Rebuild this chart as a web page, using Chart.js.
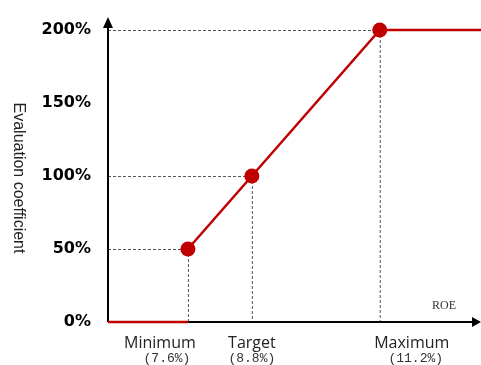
<!DOCTYPE html>
<html>
<head>
<meta charset="utf-8">
<script src="https://cdn.jsdelivr.net/npm/chart.js@4/dist/chart.umd.min.js"></script>
<style>
  html, body { margin: 0; padding: 0; background: #fff; }
  #wrap { width: 481px; height: 365px; }
</style>
</head>
<body>
<div id="wrap"><canvas id="chart" width="481" height="365"></canvas></div>
<script>
// ROE thresholds and the evaluation coefficient paid at each one
const roeNames = ["Minimum", "Target", "Maximum"];
const roeValues = [7.6, 8.8, 11.2];
const coefficients = [50, 100, 200];
const yTicks = [0, 50, 100, 150, 200];
const xRange = [6.1, 13.1];

const RED = "#c00000";
const nameShift = [-28, 0, 32];
const noteShift = [-21, 0, 36];

// below the minimum nothing is paid, above the maximum it stays capped
const floorLine = [
  { x: xRange[0], y: 0 },
  { x: roeValues[0], y: 0 },
];
const payLine = roeValues.map((x, i) => ({ x, y: coefficients[i] }));
payLine.push({ x: xRange[1], y: coefficients[coefficients.length - 1] });

function segment(ctx, x1, y1, x2, y2) {
  ctx.beginPath();
  ctx.moveTo(x1, y1);
  ctx.lineTo(x2, y2);
  ctx.stroke();
}

const guides = {
  id: "guides",
  beforeDatasetsDraw(chart) {
    const { ctx, chartArea: a, scales: { x, y } } = chart;
    ctx.save();
    // dashed helper lines from each threshold point to both axes
    ctx.strokeStyle = "#555";
    ctx.lineWidth = 1;
    ctx.setLineDash([3, 2]);
    roeValues.forEach((v, i) => {
      const px = x.getPixelForValue(v);
      const py = y.getPixelForValue(coefficients[i]);
      segment(ctx, a.left, py + 0.5, px, py + 0.5);
      segment(ctx, px + 0.5, py, px + 0.5, a.bottom);
    });
    ctx.setLineDash([]);

    // axes with arrow heads
    ctx.strokeStyle = "#000";
    ctx.fillStyle = "#000";
    ctx.lineWidth = 2;
    segment(ctx, a.left, a.bottom, a.right - 6, a.bottom);
    segment(ctx, a.left, a.bottom, a.left, a.top - 4);
    ctx.beginPath();
    ctx.moveTo(a.left, a.top - 13);
    ctx.lineTo(a.left - 5, a.top - 2);
    ctx.lineTo(a.left + 5, a.top - 2);
    ctx.closePath();
    ctx.fill();
    ctx.beginPath();
    ctx.moveTo(a.right, a.bottom);
    ctx.lineTo(a.right - 9, a.bottom - 5);
    ctx.lineTo(a.right - 9, a.bottom + 5);
    ctx.closePath();
    ctx.fill();
    ctx.restore();
  },
  afterDraw(chart) {
    const { ctx, chartArea: a, scales: { x } } = chart;
    ctx.save();
    ctx.textAlign = "center";
    ctx.textBaseline = "alphabetic";
    roeValues.forEach((v, i) => {
      const px = x.getPixelForValue(v);
      ctx.fillStyle = "#222";
      ctx.font = "16px 'Open Sans'";
      ctx.fillText(roeNames[i], px + nameShift[i], a.bottom + 26);
      ctx.fillStyle = "#333";
      ctx.font = "13px 'Liberation Mono'";
      ctx.fillText("(" + v + "%)", px + noteShift[i], a.bottom + 40);
    });

    ctx.fillStyle = "#333";
    ctx.font = "12px 'Liberation Serif'";
    ctx.fillText("ROE", a.right - 37, a.bottom - 13);

    // axis title reads top to bottom
    ctx.translate(18, 178);
    ctx.rotate(Math.PI / 2);
    ctx.textBaseline = "middle";
    ctx.fillStyle = "#222";
    ctx.font = "16px 'Liberation Sans'";
    ctx.fillText("Evaluation coefficient", 0, 0);
    ctx.restore();
  },
};

new Chart(document.getElementById("chart"), {
  type: "line",
  data: {
    datasets: [
      {
        data: floorLine,
        borderColor: RED,
        borderWidth: 2.5,
        pointRadius: 0,
        clip: false,
      },
      {
        data: payLine,
        borderColor: RED,
        backgroundColor: RED,
        borderWidth: 2.5,
        pointRadius: payLine.map((_, i) => (i < roeValues.length ? 7.5 : 0)),
        pointBorderWidth: 0,
        clip: false,
      },
    ],
  },
  options: {
    responsive: false,
    animation: false,
    layout: { autoPadding: false, padding: { top: 30, bottom: 43, left: 0, right: 0 } },
    plugins: { legend: { display: false }, tooltip: { enabled: false } },
    scales: {
      x: {
        type: "linear",
        min: xRange[0],
        max: xRange[1],
        display: false,
      },
      y: {
        min: 0,
        max: 200,
        afterFit(scale) { scale.width = 108; },
        afterBuildTicks(scale) { scale.ticks = yTicks.map((v) => ({ value: v })); },
        grid: { display: false, drawTicks: false },
        border: { display: false },
        ticks: {
          padding: 17,
          color: "#000",
          font: { family: "DejaVu Sans", size: 16, weight: "bold" },
          callback: (v) => v + "%",
        },
      },
    },
  },
  plugins: [guides],
});
</script>
</body>
</html>
